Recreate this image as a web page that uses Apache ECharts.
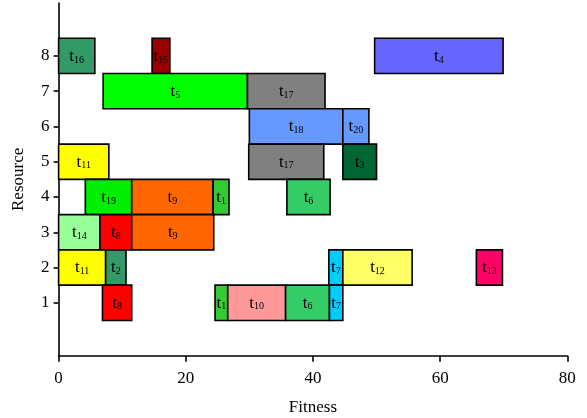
<!DOCTYPE html>
<html>
<head>
<meta charset="utf-8">
<script src="https://cdn.jsdelivr.net/npm/echarts@6/dist/echarts.min.js"></script>
<style>
  html, body { margin: 0; padding: 0; background: #fff; }
  #chart { width: 587px; height: 418px; }
</style>
</head>
<body>
<div id="chart"></div>
<script>
// Task schedule: one bar per task segment, placed on a resource row.
const taskIds   = [16, 15, 4, 5, 17, 18, 20, 11, 17, 3, 19, 9, 1, 6, 14, 8, 9, 11, 2, 7, 12, 13, 8, 1, 10, 6, 7];
const resources = [8, 8, 8, 7, 7, 6, 6, 5, 5, 5, 4, 4, 4, 4, 3, 3, 3, 2, 2, 2, 2, 2, 1, 1, 1, 1, 1];
const starts    = [0, 14.7, 49.7, 7, 29.7, 30, 44.7, 0, 29.9, 44.7, 4.2, 11.5, 24.3, 35.9, 0, 6.5, 11.5, 0, 7.4, 42.5, 44.7, 65.7, 6.9, 24.6, 26.6, 35.7, 42.6];
const ends      = [5.7, 17.5, 69.9, 29.7, 41.9, 44.7, 48.8, 7.9, 41.7, 50, 11.5, 24.3, 26.8, 42.7, 6.5, 11.5, 24.4, 7.4, 10.6, 44.7, 55.6, 69.8, 11.5, 26.6, 35.7, 42.6, 44.7];

const xTicks = [0, 20, 40, 60, 80];
const yTicks = [1, 2, 3, 4, 5, 6, 7, 8];

// Fill colour for each task id
const taskColor = {
  1: '#33cc33', 2: '#339966', 3: '#006633', 4: '#6666ff', 5: '#00ff00',
  6: '#33cc66', 7: '#00ccff', 8: '#ff0000', 9: '#ff6600', 10: '#ff9999',
  11: '#ffff00', 12: '#ffff66', 13: '#ff0066', 14: '#99ff99', 15: '#990000',
  16: '#339966', 17: '#808080', 18: '#6699ff', 19: '#00ee00', 20: '#6699ff'
};

const rows = taskIds.map((id, i) => [resources[i], starts[i], ends[i], id]);

const serif = '"Liberation Serif", "Times New Roman", serif';
const chart = echarts.init(document.getElementById('chart'), null, { renderer: 'canvas' });

chart.setOption({
  animation: false,
  grid: { left: 58.6, right: 19.7, top: 3, bottom: 62.3, containLabel: false, outerBoundsMode: 'none' },
  xAxis: {
    type: 'value', min: 0, max: 80, interval: 20,
    name: 'Fitness', nameLocation: 'middle', nameGap: 43,
    nameTextStyle: { fontFamily: serif, fontSize: 17, color: '#000' },
    axisLine: { onZero: false, lineStyle: { color: '#000', width: 1.6 } },
    axisTick: { show: true, length: 6, lineStyle: { color: '#000', width: 1.6 }, customValues: xTicks },
    axisLabel: { fontFamily: serif, fontSize: 17, color: '#000', margin: 14, customValues: xTicks },
    splitLine: { show: false }
  },
  yAxis: {
    type: 'value', min: -0.5, max: 9.5,
    name: 'Resource', nameLocation: 'middle', nameGap: 32, nameRotate: 90,
    nameTextStyle: { fontFamily: serif, fontSize: 17, color: '#000' },
    axisLine: { show: true, onZero: false, lineStyle: { color: '#000', width: 1.6 } },
    axisTick: { show: true, length: 5, lineStyle: { color: '#000', width: 1.6 }, customValues: yTicks },
    axisLabel: { fontFamily: serif, fontSize: 17, color: '#000', margin: 9, customValues: yTicks },
    splitLine: { show: false }
  },
  series: [{
    type: 'custom',
    data: rows,
    encode: { x: [1, 2], y: 0 },
    clip: false,
    renderItem: function (params, api) {
      const r = api.value(0), s = api.value(1), e = api.value(2), id = api.value(3);
      const p0 = api.coord([s, r + 0.5]);
      const p1 = api.coord([e, r - 0.5]);
      return {
        type: 'rect',
        shape: { x: p0[0], y: p0[1], width: p1[0] - p0[0], height: p1[1] - p0[1] },
        style: { fill: taskColor[id], stroke: '#000', lineWidth: 1.6 },
        textContent: {
          type: 'text',
          style: {
            text: '{t|t}{s|' + id + '}',
            fill: '#000',
            fontFamily: serif,
            rich: {
              t: { fontFamily: serif, fontSize: 17, fill: '#000', lineHeight: 18, verticalAlign: 'bottom' },
              s: { fontFamily: serif, fontSize: 10, fill: '#000', lineHeight: 18, verticalAlign: 'bottom', padding: [7, 0, 0, 0] }
            }
          }
        },
        textConfig: { position: 'inside', inside: false, insideFill: '#000', insideStroke: 'none' }
      };
    }
  }]
});
</script>
</body>
</html>
